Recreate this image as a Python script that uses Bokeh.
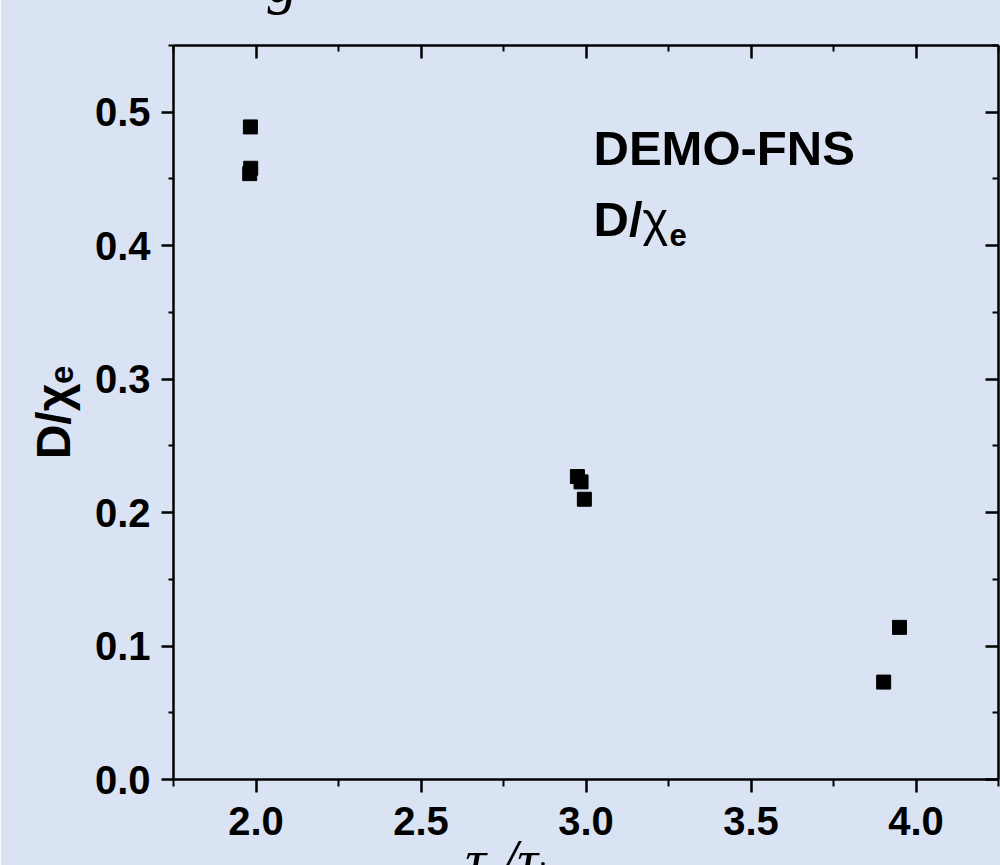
import math
from bokeh.plotting import figure
from bokeh.models import LinearAxis, FixedTicker, NumeralTickFormatter, Label, Range1d, ColumnDataSource, Title
from bokeh.embed import file_html
from bokeh.resources import INLINE

# ---- data ----
tau_ratio = [1.983, 1.984, 1.981, 2.974, 2.985, 2.995, 3.950, 3.902]
d_over_chi = [0.489, 0.458, 0.454, 0.227, 0.223, 0.210, 0.114, 0.073]

x_major = [2.0, 2.5, 3.0, 3.5, 4.0]
x_minor = [1.75, 2.25, 2.75, 3.25, 3.75, 4.25]
y_major = [0.0, 0.1, 0.2, 0.3, 0.4, 0.5]
y_minor = [0.05, 0.15, 0.25, 0.35, 0.45, 0.55]

BG = "#dae3f3"
FONT = "Liberation Sans"
SERIF = "Liberation Serif"

X0, X1 = 1.75, 4.25
Y0, Y1 = 0.0, 0.55
FL, FR, FT, FB = 173, 998, 45, 779  # frame in window pixels
HID_TOP, HID_BOT = 110, 60          # parts of the figure kept outside the window

W, H = 1000, 865


def px2x(px):
    return X0 + (px - FL) * (X1 - X0) / (FR - FL)


def py2y(py):
    return Y0 + (FB - py) * (Y1 - Y0) / (FB - FT)


p = figure(width=W, height=H + HID_TOP + HID_BOT, output_backend="svg", toolbar_location=None,
           x_range=Range1d(X0, X1), y_range=Range1d(Y0, Y1),
           min_border_left=FL, min_border_right=W - FR,
           min_border_top=FT + HID_TOP, min_border_bottom=H - FB + HID_BOT,
           background_fill_color=BG, border_fill_color=BG,
           outline_line_color=None,
           styles={"margin-top": f"-{HID_TOP}px", "margin-bottom": f"-{HID_BOT}px"})
p.grid.visible = False

xt = FixedTicker(ticks=x_major, minor_ticks=x_minor)
yt = FixedTicker(ticks=y_major, minor_ticks=y_minor)


def style(ax, labels=True, tin=0, tout=0, min_in=0, min_out=0):
    ax.axis_line_color = "black"
    ax.axis_line_width = 2.5
    ax.major_tick_line_color = "black"
    ax.major_tick_line_width = 2.5
    ax.minor_tick_line_color = "black"
    ax.minor_tick_line_width = 2
    ax.major_tick_in = tin
    ax.major_tick_out = tout
    ax.minor_tick_in = min_in
    ax.minor_tick_out = min_out
    ax.major_label_text_font = FONT
    ax.major_label_text_font_style = "bold"
    ax.major_label_text_color = "black"
    if labels:
        ax.major_label_text_font_size = "40px"
    else:
        ax.major_label_text_font_size = "0px"
        ax.major_label_standoff = 0


xa = p.xaxis[0]
xa.ticker = xt
xa.formatter = NumeralTickFormatter(format="0.0")
style(xa, True, 0, 13, 0, 7)
xa.major_label_standoff = 14
xa.axis_label = "τₑ/τᵢ" + "\u00a0" * 11
xa.axis_label_text_font = SERIF
xa.axis_label_text_font_style = "italic"
xa.axis_label_text_font_size = "58px"
xa.axis_label_text_color = "black"
xa.axis_label_standoff = -11

ya = p.yaxis[0]
ya.ticker = yt
ya.formatter = NumeralTickFormatter(format="0.0")
style(ya, True, 0, 12, 0, 5)
ya.major_label_standoff = 11
ya.axis_label = "D/χₑ"
ya.axis_label_text_font = FONT
ya.axis_label_text_font_style = "bold"
ya.axis_label_text_font_size = "48px"
ya.axis_label_text_color = "black"
ya.axis_label_standoff = 12

top = LinearAxis(ticker=FixedTicker(ticks=x_major, minor_ticks=x_minor))
style(top, False, 13, 0, 6, 0)
p.add_layout(top, "above")

right = LinearAxis(ticker=FixedTicker(ticks=y_major, minor_ticks=y_minor))
style(right, False, 13, 0, 6, 0)
p.add_layout(right, "right")

# title of the original figure, only its lowest part shows at the top edge
p.add_layout(Title(text="g", align="left", offset=94, standoff=62,
                   text_font=SERIF, text_font_style="italic",
                   text_font_size="60px", text_color="black"), "above")

src = ColumnDataSource(dict(x=tau_ratio, y=d_over_chi))
p.scatter("x", "y", source=src, marker="square", size=14,
          fill_color="black", line_color="black")


def lab(text, px, py, size, font=FONT, style_="bold"):
    p.add_layout(Label(x=px2x(px), y=py2y(py), text=text, text_font=font,
                       text_font_size=f"{size}px", text_font_style=style_,
                       text_color="black", text_baseline="alphabetic",
                       text_align="left"))


# inner annotation
lab("DEMO-FNS", 593, 147, 49)
lab("D/", 593, 218, 49)
lab("χ", 642, 218, 49, style_="normal")
lab("e", 669, 234, 31)

open("out.html", "w").write(file_html(p, INLINE))
